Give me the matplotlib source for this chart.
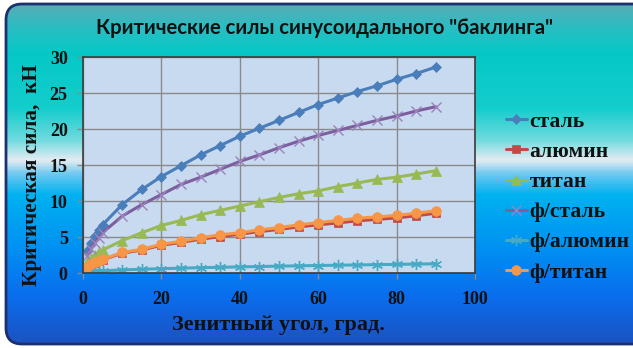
import numpy as np
import matplotlib
matplotlib.use("Agg")
import matplotlib.pyplot as plt
from matplotlib.patches import FancyBboxPatch
from matplotlib.colors import LinearSegmentedColormap

# Zenith angle, degrees
angle = [1, 2, 3, 4, 5, 10, 15, 20, 25, 30, 35, 40, 45, 50, 55, 60, 65, 70, 75, 80, 85, 90]

# Critical sinusoidal buckling forces, kN
steel = [3.0, 4.2, 5.2, 6.0, 6.7, 9.5, 11.6, 13.4, 14.9, 16.4, 17.7, 19.0, 20.1, 21.2,
         22.3, 23.4, 24.3, 25.2, 26.0, 26.9, 27.7, 28.6]
alum = [0.85, 1.2, 1.45, 1.65, 1.85, 2.75, 3.2, 3.85, 4.25, 4.7, 5.05, 5.4, 5.75, 6.05,
        6.4, 6.7, 6.95, 7.25, 7.45, 7.65, 7.95, 8.3]
titan = [1.5, 2.1, 2.5, 2.9, 3.2, 4.5, 5.6, 6.6, 7.3, 8.1, 8.7, 9.3, 9.9, 10.5,
         11.0, 11.4, 12.0, 12.5, 13.0, 13.3, 13.75, 14.2]
f_steel = [2.4, 3.4, 4.2, 4.9, 5.6, 7.9, 9.5, 10.9, 12.3, 13.3, 14.4, 15.5, 16.4, 17.4,
           18.3, 19.1, 19.8, 20.5, 21.2, 21.8, 22.5, 23.1]
f_alum = [0.14, 0.2, 0.24, 0.28, 0.31, 0.43, 0.52, 0.6, 0.67, 0.74, 0.79, 0.85, 0.9, 0.95,
          1.0, 1.04, 1.08, 1.12, 1.16, 1.2, 1.24, 1.28]
f_titan = [0.9, 1.25, 1.5, 1.7, 1.9, 2.85, 3.3, 4.0, 4.4, 4.9, 5.3, 5.6, 6.0, 6.3,
           6.7, 7.0, 7.3, 7.6, 7.8, 8.0, 8.3, 8.65]

series_labels = ["сталь", "алюмин", "титан", "ф/сталь", "ф/алюмин", "ф/титан"]
x_ticks = [0, 20, 40, 60, 80, 100]
y_ticks = [0, 5, 10, 15, 20, 25, 30]

title = 'Критические силы синусоидального "баклинга"'
x_label = "Зенитный угол, град."
y_label = "Критическая сила,  кН"

W, H, DPI = 633, 348, 100
fig = plt.figure(figsize=(W / DPI, H / DPI), dpi=DPI)
fig.patch.set_facecolor("white")

# Background panel with a vertical gradient and rounded border
bg = fig.add_axes([0, 0, 1, 1], zorder=0)
bg.set_xlim(0, W)
bg.set_ylim(H, 0)
bg.axis("off")
stops = [
    (0.00, (95, 170, 180)),
    (0.08, (40, 190, 195)),
    (0.15, (5, 200, 198)),
    (0.31, (20, 205, 205)),
    (0.40, (110, 218, 222)),
    (0.46, (228, 236, 242)),
    (0.50, (110, 200, 240)),
    (0.56, (0, 178, 240)),
    (0.70, (0, 148, 242)),
    (0.85, (10, 110, 238)),
    (1.00, (30, 80, 190)),
]
cmap = LinearSegmentedColormap.from_list(
    "panel", [(p, tuple(c / 255 for c in rgb)) for p, rgb in stops])
grad = np.linspace(0, 1, 400).reshape(-1, 1)
im = bg.imshow(grad, cmap=cmap, aspect="auto", extent=[0, W, H, 0], zorder=0)
panel = FancyBboxPatch((6, 4), W + 20, H - 8, boxstyle="round,pad=0,rounding_size=16",
                       facecolor="none", edgecolor="#1c2f6e", linewidth=2.0, zorder=2)
bg.add_patch(panel)
clip = FancyBboxPatch((6, 4), W + 20, H - 8, boxstyle="round,pad=0,rounding_size=16",
                      facecolor="none", edgecolor="none", transform=bg.transData)
bg.add_patch(clip)
im.set_clip_path(clip)

# Plot area
ax = fig.add_axes([83 / W, 1 - 273 / H, (475 - 83) / W, (273 - 57) / H], zorder=2)
ax.set_facecolor("#c8daf0")
ax.set_xlim(0, 100)
ax.set_ylim(0, 30)
ax.set_xticks(x_ticks)
ax.set_yticks(y_ticks)
ax.grid(True, color="#8a8a8a", linewidth=1.0)
ax.set_axisbelow(True)
for s in ax.spines.values():
    s.set_color("#3c3c3c")
    s.set_linewidth(1.2)
ax.tick_params(axis="x", direction="out", length=4, color="#8a8a8a", width=1, pad=9)
ax.tick_params(axis="y", direction="out", length=4, color="#8a8a8a", width=1, pad=7)

serif = "Liberation Serif"
for lab in ax.get_xticklabels() + ax.get_yticklabels():
    lab.set_fontfamily(serif)
    lab.set_fontweight("bold")
    lab.set_fontsize(13)
    lab.set_color("#111111")

styles = [
    (steel, "#4a7ebb", "D", 5, None),
    (alum, "#be4b48", "s", 5.5, None),
    (titan, "#98b954", "^", 6.5, None),
    (f_steel, "#7d5fa0", "x", 7, "#9a84bb"),
    (f_alum, "#46aac4", (6, 2, 0), 8, None),
    (f_titan, "#f79646", "o", 7, None),
]
for (vals, color, mk, ms, mec), name in zip(styles, series_labels):
    ax.plot(angle, vals, color=color, linewidth=2.2, marker=mk, markersize=ms,
            markerfacecolor=color, markeredgecolor=mec or color,
            markeredgewidth=1.0 if mk in ("x",) or isinstance(mk, tuple) else 0.5,
            label=name, solid_capstyle="round")

fig.text(324 / W, 1 - 28 / H, title, ha="center", va="center",
         fontfamily="Lato", fontweight="bold", fontsize=14.6, color="#111111")
fig.text(278 / W, 1 - 325 / H, x_label, ha="center", va="center",
         fontfamily=serif, fontweight="bold", fontsize=16, color="#111111")
fig.text(32 / W, 1 - 175 / H, y_label, ha="center", va="center", rotation=90,
         fontfamily=serif, fontweight="bold", fontsize=15.3, color="#111111")

leg = fig.legend(loc="upper left", bbox_to_anchor=(497 / W, 1 - 103 / H),
                 frameon=False, handlelength=1.0, handletextpad=0.1,
                 labelspacing=0.47, borderaxespad=0,
                 prop={"family": serif, "weight": "bold", "size": 15.5})
for t in leg.get_texts():
    t.set_color("#111111")

fig.savefig("out.png", dpi=DPI)
